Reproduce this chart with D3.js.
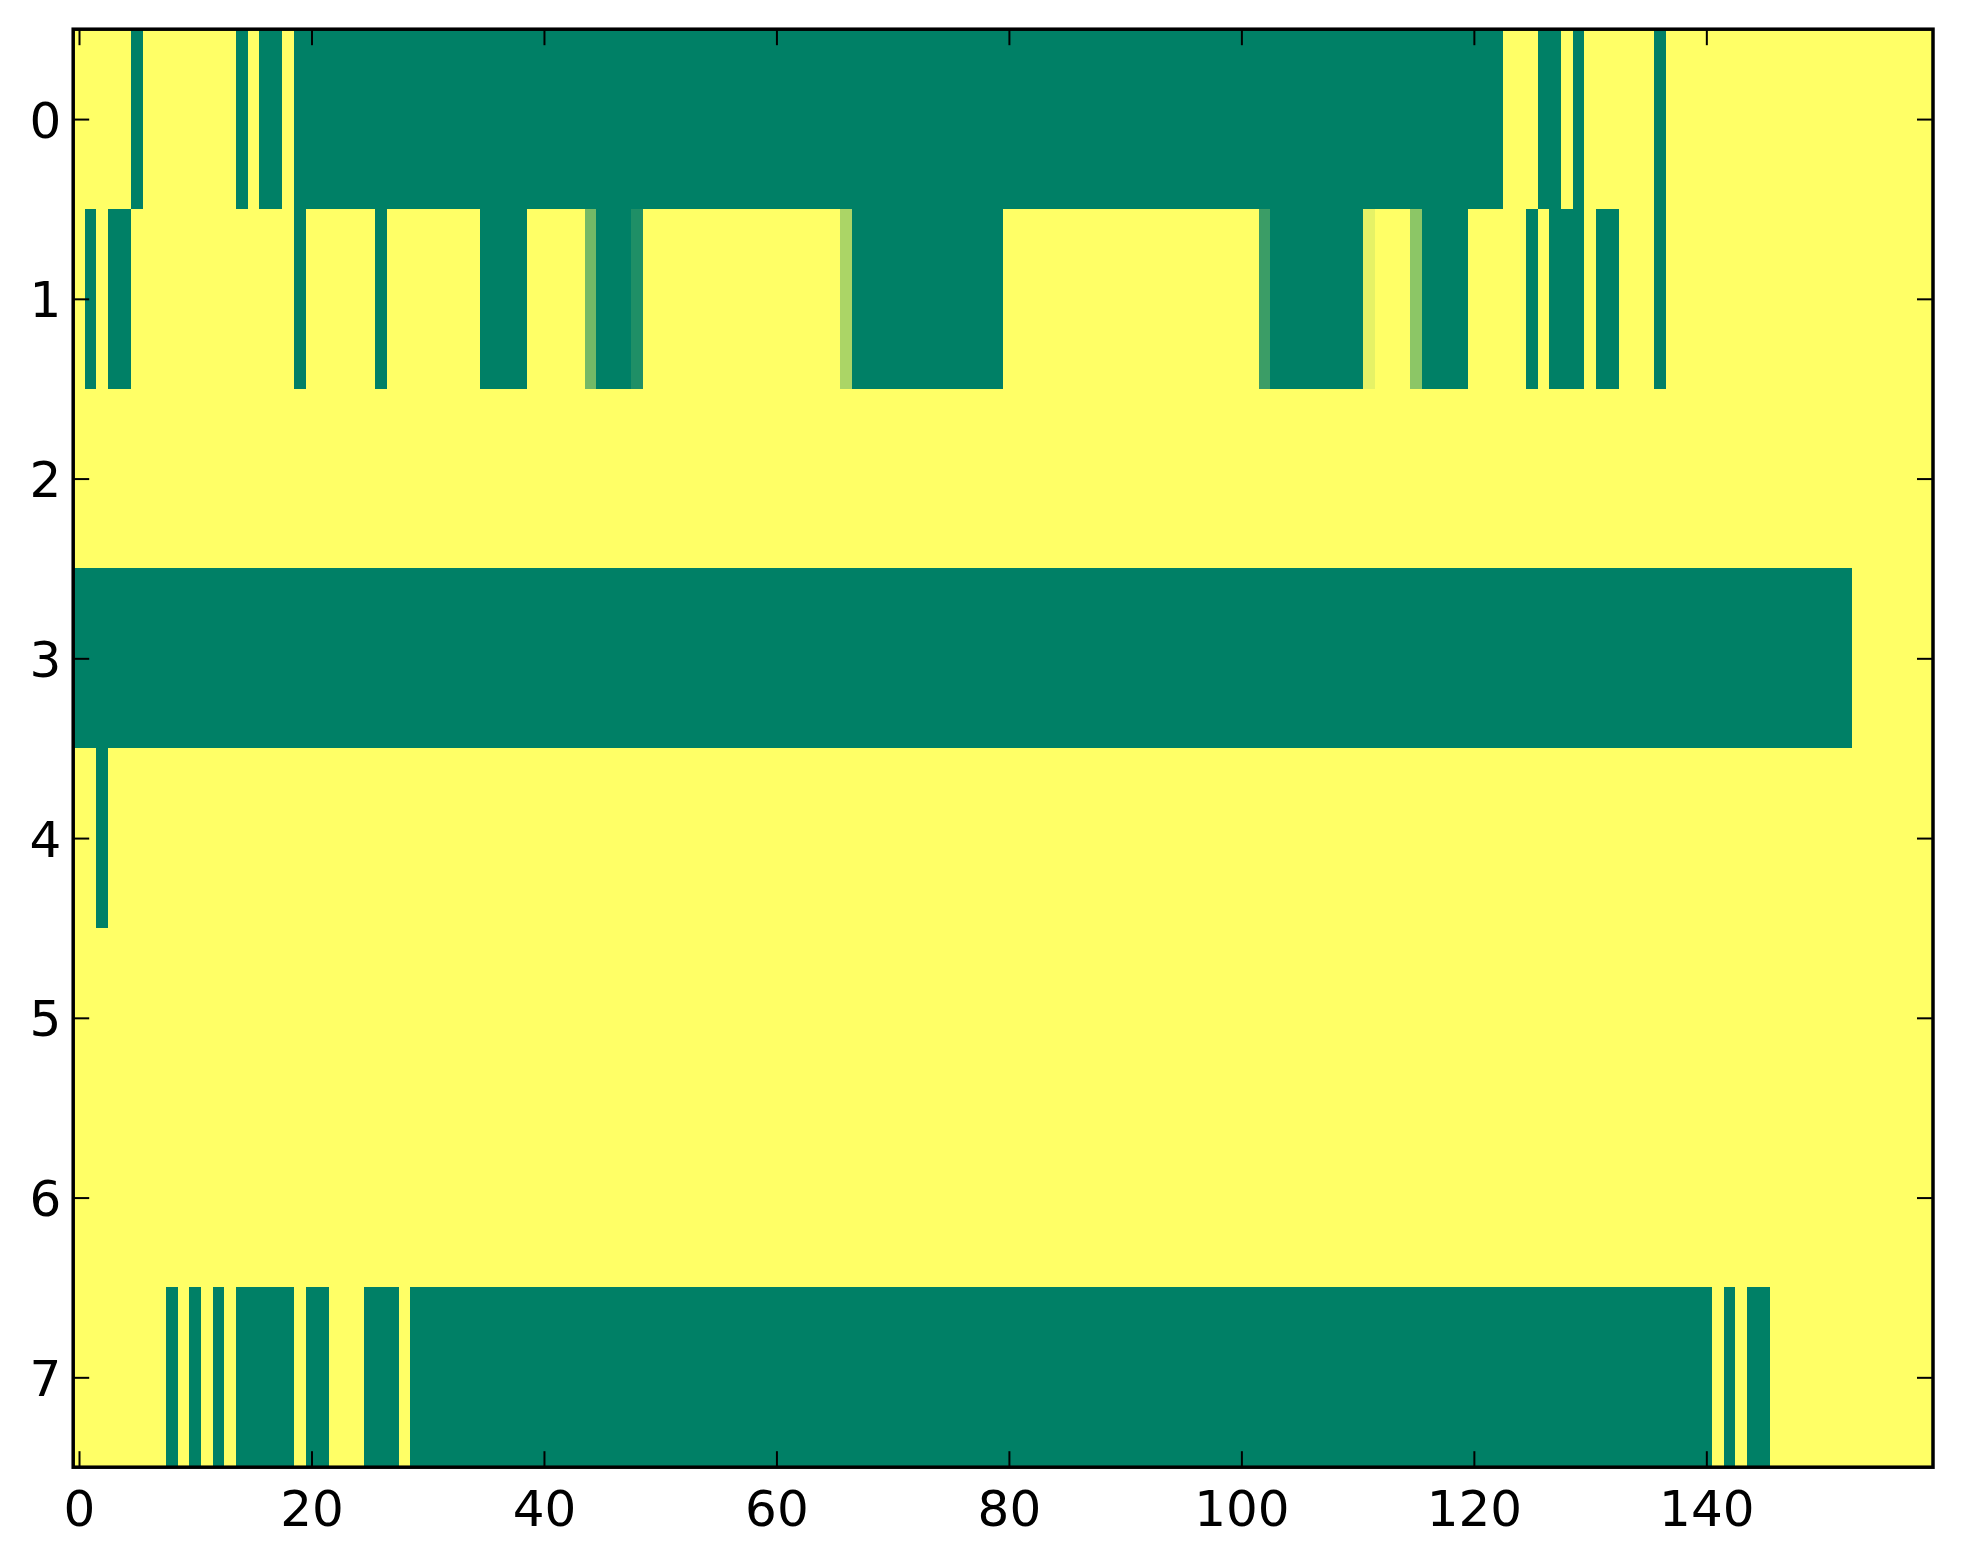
<!DOCTYPE html>
<html>
<head>
<meta charset="utf-8">
<script src="https://cdn.jsdelivr.net/npm/d3@7"></script>
<style>
  html, body { margin: 0; padding: 0; background: #ffffff; }
  svg { display: block; }
</style>
</head>
<body>
<svg id="chart" width="1963" height="1564"></svg>
<script>
// ---- data (one array per image row, 160 columns each) ----
const row0 = [
  1,1,1,1,1,0,1,1,1,1,
  1,1,1,1,0,1,0,0,1,0,
  0,0,0,0,0,0,0,0,0,0,
  0,0,0,0,0,0,0,0,0,0,
  0,0,0,0,0,0,0,0,0,0,
  0,0,0,0,0,0,0,0,0,0,
  0,0,0,0,0,0,0,0,0,0,
  0,0,0,0,0,0,0,0,0,0,
  0,0,0,0,0,0,0,0,0,0,
  0,0,0,0,0,0,0,0,0,0,
  0,0,0,0,0,0,0,0,0,0,
  0,0,0,0,0,0,0,0,0,0,
  0,0,0,1,1,1,0,0,1,0,
  1,1,1,1,1,1,0,1,1,1,
  1,1,1,1,1,1,1,1,1,1,
  1,1,1,1,1,1,1,1,1,1
];
const row1 = [
  1,0,1,0,0,1,1,1,1,1,
  1,1,1,1,1,1,1,1,1,0,
  1,1,1,1,1,1,0,1,1,1,
  1,1,1,1,1,0,0,0,0,1,
  1,1,1,1,0.45,0,0,0,0.12,1,
  1,1,1,1,1,1,1,1,1,1,
  1,1,1,1,1,1,0.67,0,0,0,
  0,0,0,0,0,0,0,0,0,0,
  1,1,1,1,1,1,1,1,1,1,
  1,1,1,1,1,1,1,1,1,1,
  1,1,0.23,0,0,0,0,0,0,0,
  0,0.9,1,1,1,0.55,0,0,0,0,
  1,1,1,1,1,0,1,0,0,0,
  1,0,0,1,1,1,0,1,1,1,
  1,1,1,1,1,1,1,1,1,1,
  1,1,1,1,1,1,1,1,1,1
];
const row2 = [
  1,1,1,1,1,1,1,1,1,1,
  1,1,1,1,1,1,1,1,1,1,
  1,1,1,1,1,1,1,1,1,1,
  1,1,1,1,1,1,1,1,1,1,
  1,1,1,1,1,1,1,1,1,1,
  1,1,1,1,1,1,1,1,1,1,
  1,1,1,1,1,1,1,1,1,1,
  1,1,1,1,1,1,1,1,1,1,
  1,1,1,1,1,1,1,1,1,1,
  1,1,1,1,1,1,1,1,1,1,
  1,1,1,1,1,1,1,1,1,1,
  1,1,1,1,1,1,1,1,1,1,
  1,1,1,1,1,1,1,1,1,1,
  1,1,1,1,1,1,1,1,1,1,
  1,1,1,1,1,1,1,1,1,1,
  1,1,1,1,1,1,1,1,1,1
];
const row3 = [
  0,0,0,0,0,0,0,0,0,0,
  0,0,0,0,0,0,0,0,0,0,
  0,0,0,0,0,0,0,0,0,0,
  0,0,0,0,0,0,0,0,0,0,
  0,0,0,0,0,0,0,0,0,0,
  0,0,0,0,0,0,0,0,0,0,
  0,0,0,0,0,0,0,0,0,0,
  0,0,0,0,0,0,0,0,0,0,
  0,0,0,0,0,0,0,0,0,0,
  0,0,0,0,0,0,0,0,0,0,
  0,0,0,0,0,0,0,0,0,0,
  0,0,0,0,0,0,0,0,0,0,
  0,0,0,0,0,0,0,0,0,0,
  0,0,0,0,0,0,0,0,0,0,
  0,0,0,0,0,0,0,0,0,0,
  0,0,0,1,1,1,1,1,1,1
];
const row4 = [
  1,1,0,1,1,1,1,1,1,1,
  1,1,1,1,1,1,1,1,1,1,
  1,1,1,1,1,1,1,1,1,1,
  1,1,1,1,1,1,1,1,1,1,
  1,1,1,1,1,1,1,1,1,1,
  1,1,1,1,1,1,1,1,1,1,
  1,1,1,1,1,1,1,1,1,1,
  1,1,1,1,1,1,1,1,1,1,
  1,1,1,1,1,1,1,1,1,1,
  1,1,1,1,1,1,1,1,1,1,
  1,1,1,1,1,1,1,1,1,1,
  1,1,1,1,1,1,1,1,1,1,
  1,1,1,1,1,1,1,1,1,1,
  1,1,1,1,1,1,1,1,1,1,
  1,1,1,1,1,1,1,1,1,1,
  1,1,1,1,1,1,1,1,1,1
];
const row5 = [
  1,1,1,1,1,1,1,1,1,1,
  1,1,1,1,1,1,1,1,1,1,
  1,1,1,1,1,1,1,1,1,1,
  1,1,1,1,1,1,1,1,1,1,
  1,1,1,1,1,1,1,1,1,1,
  1,1,1,1,1,1,1,1,1,1,
  1,1,1,1,1,1,1,1,1,1,
  1,1,1,1,1,1,1,1,1,1,
  1,1,1,1,1,1,1,1,1,1,
  1,1,1,1,1,1,1,1,1,1,
  1,1,1,1,1,1,1,1,1,1,
  1,1,1,1,1,1,1,1,1,1,
  1,1,1,1,1,1,1,1,1,1,
  1,1,1,1,1,1,1,1,1,1,
  1,1,1,1,1,1,1,1,1,1,
  1,1,1,1,1,1,1,1,1,1
];
const row6 = [
  1,1,1,1,1,1,1,1,1,1,
  1,1,1,1,1,1,1,1,1,1,
  1,1,1,1,1,1,1,1,1,1,
  1,1,1,1,1,1,1,1,1,1,
  1,1,1,1,1,1,1,1,1,1,
  1,1,1,1,1,1,1,1,1,1,
  1,1,1,1,1,1,1,1,1,1,
  1,1,1,1,1,1,1,1,1,1,
  1,1,1,1,1,1,1,1,1,1,
  1,1,1,1,1,1,1,1,1,1,
  1,1,1,1,1,1,1,1,1,1,
  1,1,1,1,1,1,1,1,1,1,
  1,1,1,1,1,1,1,1,1,1,
  1,1,1,1,1,1,1,1,1,1,
  1,1,1,1,1,1,1,1,1,1,
  1,1,1,1,1,1,1,1,1,1
];
const row7 = [
  1,1,1,1,1,1,1,1,0,1,
  0,1,0,1,0,0,0,0,0,1,
  0,0,1,1,1,0,0,0,1,0,
  0,0,0,0,0,0,0,0,0,0,
  0,0,0,0,0,0,0,0,0,0,
  0,0,0,0,0,0,0,0,0,0,
  0,0,0,0,0,0,0,0,0,0,
  0,0,0,0,0,0,0,0,0,0,
  0,0,0,0,0,0,0,0,0,0,
  0,0,0,0,0,0,0,0,0,0,
  0,0,0,0,0,0,0,0,0,0,
  0,0,0,0,0,0,0,0,0,0,
  0,0,0,0,0,0,0,0,0,0,
  0,0,0,0,0,0,0,0,0,0,
  0,1,0,1,0,0,1,1,1,1,
  1,1,1,1,1,1,1,1,1,1
];
const rows = [row0, row1, row2, row3, row4, row5, row6, row7];
const xTicks = [0, 20, 40, 60, 80, 100, 120, 140];
const yTicks = [0, 1, 2, 3, 4, 5, 6, 7];

// ---- layout ----
const plotL = 73.2, plotR = 1933, plotT = 29.2, plotB = 1467.2;
const nCols = row0.length, nRows = rows.length;

const x = d3.scaleLinear().domain([-0.5, nCols - 0.5]).range([plotL, plotR]);
const y = d3.scaleLinear().domain([-0.5, nRows - 0.5]).range([plotT, plotB]);
const color = d3.scaleLinear().domain([0, 1]).range(["#008066", "#ffff66"]);

const svg = d3.select("#chart");

// cells
const cells = [];
rows.forEach((r, ri) => r.forEach((v, ci) => cells.push({ r: ri, c: ci, v })));
svg.append("g")
  .attr("shape-rendering", "crispEdges")
  .selectAll("rect").data(cells).join("rect")
  .attr("x", d => x(d.c - 0.5))
  .attr("y", d => y(d.r - 0.5))
  .attr("width", d => x(d.c + 0.5) - x(d.c - 0.5) + 0.5)
  .attr("height", d => y(d.r + 0.5) - y(d.r - 0.5) + 0.5)
  .attr("fill", d => color(d.v));

// ticks (inward on all four sides)
const tickLen = 16, tickW = 2;
const axisFont = "DejaVu Sans, sans-serif";

const bottomAxis = d3.axisBottom(x).tickValues(xTicks).tickSize(-tickLen).tickPadding(0).tickFormat(d3.format("d"));
const gb = svg.append("g").attr("transform", `translate(0,${plotB})`).call(bottomAxis);
gb.select(".domain").remove();
gb.selectAll(".tick line").attr("stroke", "#000").attr("stroke-width", tickW);
gb.selectAll(".tick text").attr("y", 59).attr("dy", null)
  .attr("font-family", axisFont).attr("font-size", 50).attr("fill", "#000");

const topAxis = d3.axisTop(x).tickValues(xTicks).tickSize(-tickLen).tickFormat("");
const gt = svg.append("g").attr("transform", `translate(0,${plotT})`).call(topAxis);
gt.select(".domain").remove();
gt.selectAll(".tick line").attr("stroke", "#000").attr("stroke-width", tickW);

const leftAxis = d3.axisLeft(y).tickValues(yTicks).tickSize(-tickLen).tickPadding(0).tickFormat(d3.format("d"));
const gl = svg.append("g").attr("transform", `translate(${plotL},0)`).call(leftAxis);
gl.select(".domain").remove();
gl.selectAll(".tick line").attr("stroke", "#000").attr("stroke-width", tickW);
gl.selectAll(".tick text").attr("x", -12).attr("dy", "0.36em")
  .attr("font-family", axisFont).attr("font-size", 50).attr("fill", "#000");

const rightAxis = d3.axisRight(y).tickValues(yTicks).tickSize(-tickLen).tickFormat("");
const gr = svg.append("g").attr("transform", `translate(${plotR},0)`).call(rightAxis);
gr.select(".domain").remove();
gr.selectAll(".tick line").attr("stroke", "#000").attr("stroke-width", tickW);

// frame
svg.append("rect")
  .attr("x", plotL).attr("y", plotT)
  .attr("width", plotR - plotL).attr("height", plotB - plotT)
  .attr("fill", "none").attr("stroke", "#000").attr("stroke-width", 3.5);
</script>
</body>
</html>
